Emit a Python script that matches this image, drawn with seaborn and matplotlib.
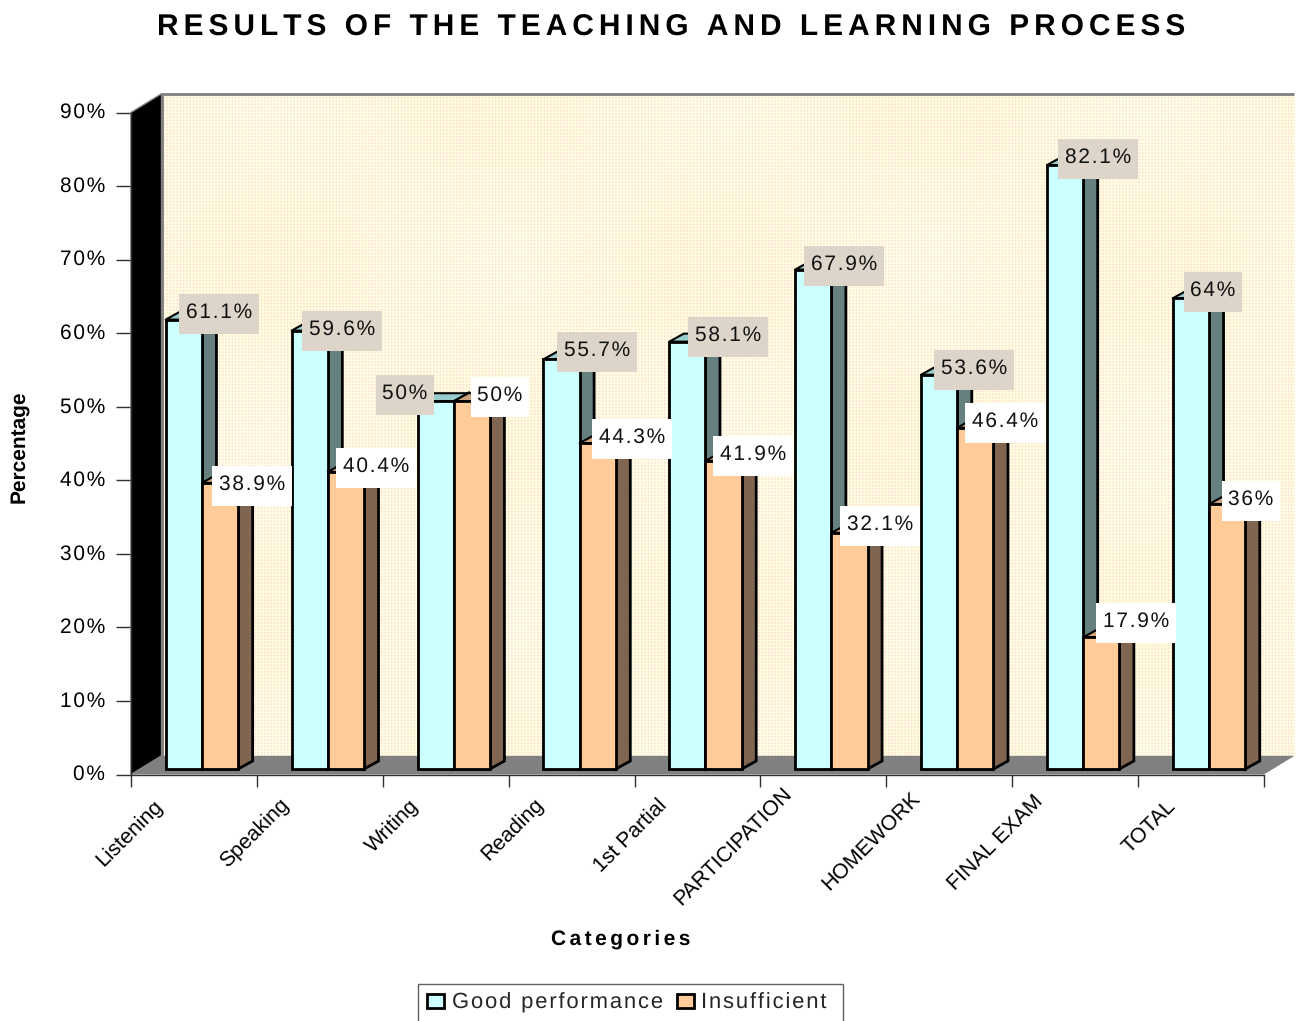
import numpy as np
import pandas as pd
import matplotlib
matplotlib.use("Agg")
import matplotlib.pyplot as plt
import seaborn as sns
from matplotlib.patches import Polygon, Rectangle
from matplotlib.transforms import Affine2D, ScaledTranslation

categories = ["Listening", "Speaking", "Writing", "Reading", "1st Partial",
              "PARTICIPATION", "HOMEWORK", "FINAL EXAM", "TOTAL"]
good = [61.1, 59.6, 50, 55.7, 58.1, 67.9, 53.6, 82.1, 64]
insufficient = [38.9, 40.4, 50, 44.3, 41.9, 32.1, 46.4, 17.9, 36]
good_text = ["61.1%", "59.6%", "50%", "55.7%", "58.1%", "67.9%", "53.6%", "82.1%", "64%"]
insufficient_text = ["38.9%", "40.4%", "50%", "44.3%", "41.9%", "32.1%", "46.4%", "17.9%", "36%"]

# label centres in image pixels, the labels were placed by hand in the original
good_label_x = [219, 342, 405, 597, 728, 844, 974, 1098, 1213]
good_label_y = [311, 328, 392, 349, 334, 263, 367, 156, 289]
insufficient_label_x = [252, 376, 500, 632, 753, 880, 1005, 1136, 1251]
insufficient_label_y = [483, 465, 394, 436, 453, 523, 420, 620, 498]

# where the rotated category names end, in image pixels
category_end_x = [163, 290, 419, 544, 668, 793, 921, 1044, 1177]
category_end_y = [800, 798, 800, 798, 799, 788, 792, 795, 800]

W, H = 1299, 1021
LEFT, RIGHT, BOTTOM, TOP = 131, 1264, 774.5, 112.5
X_SCALE = (RIGHT - LEFT) / 9
Y_SCALE = (BOTTOM - TOP) / 90


def track(text, n=1):
    # the original has wide letter spacing, hair spaces get close to it
    return ("\u200a" * n).join(text)


sns.set_theme(style="ticks")
plt.rcParams["font.family"] = ["Liberation Sans", "DejaVu Sans"]
plt.rcParams["text.hinting"] = "no_hinting"

df = pd.DataFrame({
    "category": categories * 2,
    "value": good + insufficient,
    "series": ["Good performance"] * 9 + ["Insufficient"] * 9,
})

fig = plt.figure(figsize=(W / 100, H / 100), dpi=100, facecolor="white")
ax = fig.add_axes([LEFT / W, 1 - BOTTOM / H, (RIGHT - LEFT) / W, (BOTTOM - TOP) / H])
ax.set_facecolor("none")

sns.barplot(data=df, x="category", y="value", hue="series",
            palette=["#CCFFFF", "#FFCC99"], width=0.575, gap=0,
            edgecolor="black", linewidth=2, saturation=1, legend=False, ax=ax)
bars = list(ax.patches)

pixels = Affine2D().scale(1, -1).translate(0, H)

# wall, floor and side wall of the 3d box
depth_x = 30.5 / X_SCALE
depth_y = 18.7 / Y_SCALE
yy, xx = np.mgrid[0:660, 0:1133]
dots = np.sin(2 * np.pi * (xx + yy) / 6.5) * np.sin(2 * np.pi * (xx - yy) / 6.5)
cloud = np.sin(xx / 70) * np.cos(yy / 55)
pink = np.clip(dots, 0, 1)[..., None]
pale = np.clip(-dots, 0, 1)[..., None]
paper = np.array([255, 251, 216]) + pink * np.array([-3, -30, 8]) + pale * np.array([0, 4, 24])
paper = paper + cloud[..., None] * np.array([0, 1, 5])
ax.imshow(paper.clip(0, 255).astype(np.uint8), aspect="auto", zorder=0.5, clip_on=False,
          interpolation="nearest", extent=[-0.5 + depth_x, 8.5 + depth_x, depth_y, 90 + depth_y])
ax.set_xlim(-0.5, 8.5)
ax.set_ylim(0, 90)

ax.add_patch(Polygon([(8.5 + depth_x, 90 + depth_y), (-0.5 + depth_x, 90 + depth_y),
                      (-0.5 + depth_x, depth_y)], closed=False, fill=False,
                     edgecolor="#808080", lw=2, clip_on=False, zorder=0.6))
ax.add_patch(Polygon([(-0.5, 0), (8.5, 0), (8.5 + depth_x, depth_y), (-0.5 + depth_x, depth_y)],
                     facecolor="#808080", edgecolor="none", clip_on=False, zorder=0.7))
ax.add_patch(Polygon([(-0.5, 0), (-0.5 + depth_x, depth_y), (-0.5 + depth_x, 90 + depth_y), (-0.5, 90)],
                     facecolor="black", edgecolor="#808080", lw=1, clip_on=False, zorder=0.8))

# bars sit a bit inside the box and get a top and a side face
shift_x = 8 / X_SCALE
shift_y = 5.5 / Y_SCALE
bar_x = 14.5 / X_SCALE
bar_y = 8 / Y_SCALE
styles = [("#99CCCC", "#668080", 2, 3), ("#CCA37A", "#806650", 3, 4)]
for i, bar in enumerate(bars):
    top_color, side_color, back, front = styles[i // 9]
    bar.set_x(bar.get_x() + shift_x)
    bar.set_y(shift_y)
    bar.set_clip_on(False)
    bar.set_zorder(front)
    x0 = bar.get_x()
    x1 = x0 + bar.get_width()
    y0 = shift_y
    y1 = y0 + bar.get_height()
    ax.add_patch(Polygon([(x1, y0), (x1 + bar_x, y0 + bar_y), (x1 + bar_x, y1 + bar_y), (x1, y1)],
                         facecolor=side_color, edgecolor="black", lw=2, joinstyle="miter",
                         clip_on=False, zorder=back))
    ax.add_patch(Polygon([(x0, y1), (x0 + bar_x, y1 + bar_y), (x1 + bar_x, y1 + bar_y), (x1, y1)],
                         facecolor=top_color, edgecolor="black", lw=1.5, joinstyle="round",
                         clip_on=False, zorder=back))

# axes
sns.despine(ax=ax)
ax.spines["left"].set_color("#303030")
ax.spines["bottom"].set_color("#303030")
ax.spines["left"].set_linewidth(1)
ax.spines["bottom"].set_linewidth(1)
ax.set_xlabel("")
ax.set_ylabel("")
ax.set_yticks(range(0, 100, 10))
ax.set_yticklabels([track(f"{v}%") for v in range(0, 100, 10)], fontsize=15, color="black")
ax.tick_params(axis="y", length=10.8, width=1, pad=8, color="#303030")
up = ScaledTranslation(0, 2 / 100, fig.dpi_scale_trans)
for label in ax.get_yticklabels():
    label.set_transform(label.get_transform() + up)
ax.set_xticks(np.arange(-0.5, 9), labels=[""] * 10)
ax.tick_params(axis="x", length=8.6, width=1, color="#303030")

for cat, x, y in zip(categories, category_end_x, category_end_y):
    ax.text(x - 4, y + 3, cat, transform=pixels, rotation=45, ha="right", va="center",
            rotation_mode="anchor", fontsize=15.3, color="black", clip_on=False)

# value labels, each on its own box
renderer = fig.canvas.get_renderer()
label_sets = [(good_text, good_label_x, good_label_y, "#DDD5CA"),
              (insufficient_text, insufficient_label_x, insufficient_label_y, "white")]
for texts, xs, ys, box_color in label_sets:
    for s, x, y in zip(texts, xs, ys):
        t = ax.text(x, y + 1, track(s), transform=pixels, ha="center", va="center",
                    fontsize=15, color="#111111", zorder=7, clip_on=False)
        width = t.get_window_extent(renderer).width + 13
        ax.add_patch(Rectangle((x - width / 2, y - 17), width, 40, transform=pixels,
                               facecolor=box_color, edgecolor="none", clip_on=False, zorder=6))

# titles
ax.text(671, 28, track("RESULTS OF THE TEACHING AND LEARNING PROCESS", 2), transform=pixels,
        ha="center", va="center", fontsize=21.5, fontweight="bold", color="black", clip_on=False)
ax.text(19, 447, "Percentage", transform=pixels, rotation=90, ha="center", va="center",
        fontsize=15, fontweight="bold", color="black", clip_on=False)
ax.text(621, 939, track("Categories", 2), transform=pixels, ha="center", va="center",
        fontsize=15, fontweight="bold", color="black", clip_on=False)

# legend, its box runs off the bottom of the picture in the original
ax.add_patch(Rectangle((418, 984), 425, 60, transform=pixels, facecolor="white",
                       edgecolor="#606060", lw=1, clip_on=False, zorder=8))
handles = [Rectangle((0, 0), 1, 1, facecolor=c, edgecolor="black", lw=2) for c in ["#CCFFFF", "#FFCC99"]]
legend = ax.legend(handles, [track("Good performance", 1), track("Insufficient", 1)],
                   ncol=2, frameon=False, fontsize=15.8, loc="center left",
                   bbox_to_anchor=(427, 1003), bbox_transform=pixels, borderpad=0, borderaxespad=0,
                   handlelength=0.77, handleheight=0.65, handletextpad=0.36, columnspacing=0.63)
legend.set_zorder(9)
legend.set_clip_on(False)

fig.savefig("out.png", dpi=100, facecolor="white")
